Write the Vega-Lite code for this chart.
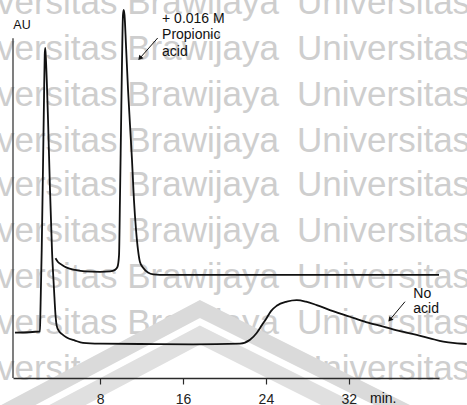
{
  "$schema": "https://vega.github.io/schema/vega-lite/v6.json",
  "width": 426,
  "height": 378,
  "autosize": {"type": "none"},
  "padding": {"left": 13, "top": 0, "right": 28, "bottom": 27},
  "background": "white",
  "config": {"view": {"stroke": null}, "font": "Liberation Sans"},
  "datasets": {
    "curves": [
      {"series": "No acid", "t": -0.21, "v": 12.0},
      {"series": "No acid", "t": 2.20, "v": 12.3},
      {"series": "No acid", "t": 2.25, "v": 18.0},
      {"series": "No acid", "t": 2.37, "v": 33.9},
      {"series": "No acid", "t": 2.49, "v": 55.0},
      {"series": "No acid", "t": 2.59, "v": 73.5},
      {"series": "No acid", "t": 2.66, "v": 85.4},
      {"series": "No acid", "t": 2.71, "v": 87.3},
      {"series": "No acid", "t": 2.78, "v": 84.1},
      {"series": "No acid", "t": 2.98, "v": 68.3},
      {"series": "No acid", "t": 3.17, "v": 49.7},
      {"series": "No acid", "t": 3.36, "v": 33.9},
      {"series": "No acid", "t": 3.56, "v": 23.3},
      {"series": "No acid", "t": 3.70, "v": 16.7},
      {"series": "No acid", "t": 3.82, "v": 13.8},
      {"series": "No acid", "t": 4.04, "v": 12.4},
      {"series": "No acid", "t": 4.33, "v": 11.6},
      {"series": "No acid", "t": 4.78, "v": 10.7},
      {"series": "No acid", "t": 5.58, "v": 9.9},
      {"series": "No acid", "t": 6.35, "v": 9.3},
      {"series": "No acid", "t": 7.99, "v": 9.1},
      {"series": "No acid", "t": 11.85, "v": 9.0},
      {"series": "No acid", "t": 16.97, "v": 8.9},
      {"series": "No acid", "t": 21.50, "v": 9.1},
      {"series": "No acid", "t": 22.47, "v": 10.1},
      {"series": "No acid", "t": 23.11, "v": 11.9},
      {"series": "No acid", "t": 23.62, "v": 14.0},
      {"series": "No acid", "t": 24.08, "v": 15.9},
      {"series": "No acid", "t": 24.49, "v": 17.7},
      {"series": "No acid", "t": 25.04, "v": 19.1},
      {"series": "No acid", "t": 26.01, "v": 20.2},
      {"series": "No acid", "t": 26.97, "v": 20.6},
      {"series": "No acid", "t": 27.87, "v": 20.2},
      {"series": "No acid", "t": 28.90, "v": 19.3},
      {"series": "No acid", "t": 30.47, "v": 17.7},
      {"series": "No acid", "t": 32.11, "v": 16.2},
      {"series": "No acid", "t": 33.66, "v": 14.8},
      {"series": "No acid", "t": 35.33, "v": 13.6},
      {"series": "No acid", "t": 36.94, "v": 12.4},
      {"series": "No acid", "t": 38.55, "v": 11.4},
      {"series": "No acid", "t": 39.83, "v": 10.5},
      {"series": "No acid", "t": 41.12, "v": 9.6},
      {"series": "No acid", "t": 42.24, "v": 9.2},
      {"series": "No acid", "t": 43.37, "v": 9.0},
      {"series": "Propionic", "t": 3.70, "v": 31.7},
      {"series": "Propionic", "t": 3.94, "v": 30.7},
      {"series": "Propionic", "t": 4.33, "v": 29.9},
      {"series": "Propionic", "t": 4.78, "v": 29.2},
      {"series": "Propionic", "t": 5.58, "v": 28.6},
      {"series": "Propionic", "t": 6.55, "v": 28.2},
      {"series": "Propionic", "t": 7.99, "v": 28.1},
      {"series": "Propionic", "t": 8.96, "v": 28.2},
      {"series": "Propionic", "t": 9.44, "v": 28.6},
      {"series": "Propionic", "t": 9.68, "v": 29.4},
      {"series": "Propionic", "t": 9.83, "v": 32.5},
      {"series": "Propionic", "t": 9.92, "v": 47.1},
      {"series": "Propionic", "t": 10.02, "v": 65.6},
      {"series": "Propionic", "t": 10.12, "v": 84.1},
      {"series": "Propionic", "t": 10.21, "v": 96.0},
      {"series": "Propionic", "t": 10.28, "v": 97.4},
      {"series": "Propionic", "t": 10.36, "v": 96.0},
      {"series": "Propionic", "t": 10.50, "v": 88.1},
      {"series": "Propionic", "t": 10.70, "v": 76.2},
      {"series": "Propionic", "t": 10.89, "v": 66.9},
      {"series": "Propionic", "t": 11.08, "v": 57.7},
      {"series": "Propionic", "t": 11.27, "v": 47.1},
      {"series": "Propionic", "t": 11.47, "v": 39.2},
      {"series": "Propionic", "t": 11.66, "v": 33.9},
      {"series": "Propionic", "t": 11.85, "v": 30.7},
      {"series": "Propionic", "t": 12.17, "v": 29.1},
      {"series": "Propionic", "t": 12.62, "v": 27.9},
      {"series": "Propionic", "t": 13.14, "v": 27.4},
      {"series": "Propionic", "t": 13.78, "v": 27.3},
      {"series": "Propionic", "t": 27.29, "v": 27.3},
      {"series": "Propionic", "t": 40.70, "v": 27.3}
    ],
    "watermark": [
      {"t": 25.26, "v": 96.4, "word": "Universitas Brawijaya"},
      {"t": 25.26, "v": 84.1, "word": "Universitas Brawijaya"},
      {"t": 25.26, "v": 71.96, "word": "Universitas Brawijaya"},
      {"t": 25.26, "v": 59.79, "word": "Universitas Brawijaya"},
      {"t": 25.26, "v": 48.15, "word": "Universitas Brawijaya"},
      {"t": 25.26, "v": 35.98, "word": "Universitas Brawijaya"},
      {"t": 25.26, "v": 23.81, "word": "Universitas Brawijaya"},
      {"t": 25.26, "v": 11.64, "word": "Universitas Brawijaya"},
      {"t": 25.26, "v": -0.53, "word": "Universitas Brawijaya"}
    ],
    "watermark2": [
      {"t": 27.0, "v": 96.4, "word": "Universitas"},
      {"t": 27.0, "v": 84.1, "word": "Universitas"},
      {"t": 27.0, "v": 71.96, "word": "Universitas"},
      {"t": 27.0, "v": 59.79, "word": "Universitas"},
      {"t": 27.0, "v": 48.15, "word": "Universitas"},
      {"t": 27.0, "v": 35.98, "word": "Universitas"},
      {"t": 27.0, "v": 23.81, "word": "Universitas"},
      {"t": 27.0, "v": 11.64, "word": "Universitas"},
      {"t": 27.0, "v": -0.53, "word": "Universitas"}
    ],
    "logoOuter": [
      {"t": -2.62, "v": -11.11}, {"t": 17.64, "v": 18.25}, {"t": 40.80, "v": -13.49}
    ],
    "logoInner": [
      {"t": -2.62, "v": -17.99}, {"t": 17.64, "v": 11.38}, {"t": 40.80, "v": -20.37}
    ],
    "labels": [
      {"t": 13.98, "v": 93.84, "label": "+ 0.016 M"},
      {"t": 13.98, "v": 89.6, "label": "Propionic"},
      {"t": 13.98, "v": 85.19, "label": "acid"},
      {"t": 38.22, "v": 21.08, "label": "No"},
      {"t": 38.22, "v": 17.11, "label": "acid"},
      {"t": 34.04, "v": -6.6, "label": "min."}
    ],
    "arrows": [
      {"t": 13.56, "v": 89.95, "t2": 11.84, "v2": 84.6},
      {"t": 37.42, "v": 20.19, "t2": 35.96, "v2": 15.4}
    ]
  },
  "encoding": {
    "x": {
      "field": "t", "type": "quantitative",
      "scale": {"domain": [-0.4, 40.7], "nice": false, "zero": false},
      "axis": {
        "values": [8, 16, 24, 32], "title": null, "grid": false, "zindex": 1,
        "tickSize": 6, "tickColor": "#2a2a2a", "tickWidth": 1.2,
        "domainColor": "#2a2a2a", "domainWidth": 1.3,
        "labelFontSize": 14, "labelColor": "#222", "labelPadding": 8, "labelFlush": false
      }
    },
    "y": {
      "field": "v", "type": "quantitative",
      "scale": {"domain": [0, 100], "nice": false, "zero": false},
      "axis": null
    }
  },
  "layer": [
    {
      "data": {"name": "watermark"},
      "mark": {"type": "text", "align": "right", "baseline": "alphabetic", "fontSize": 35, "color": "#cecece"},
      "encoding": {"text": {"field": "word"}}
    },
    {
      "data": {"name": "watermark2"},
      "mark": {"type": "text", "align": "left", "baseline": "alphabetic", "fontSize": 35, "color": "#cecece"},
      "encoding": {"text": {"field": "word"}}
    },
    {
      "data": {"name": "logoOuter"},
      "mark": {"type": "area", "color": "white", "interpolate": "linear"},
      "encoding": {"y2": {"datum": -25}}
    },
    {
      "data": {"name": "logoOuter"},
      "mark": {"type": "line", "color": "#dadada", "strokeWidth": 16, "strokeJoin": "miter", "strokeCap": "butt"}
    },
    {
      "data": {"name": "logoInner"},
      "mark": {"type": "line", "color": "#e0e0e0", "strokeWidth": 17, "strokeJoin": "miter", "strokeCap": "butt"}
    },
    {
      "data": {"values": [{"t": -0.4, "v": 0, "v2": 89.9}]},
      "mark": {"type": "rule", "color": "#3a3a3a", "strokeWidth": 1.3},
      "encoding": {"y2": {"field": "v2"}}
    },
    {
      "data": {"name": "curves"},
      "mark": {"type": "line", "color": "#111", "strokeWidth": 1.8, "interpolate": "monotone"},
      "encoding": {"detail": {"field": "series"}}
    },
    {
      "data": {"name": "arrows"},
      "mark": {"type": "rule", "color": "#111", "strokeWidth": 1},
      "encoding": {"x2": {"field": "t2"}, "y2": {"field": "v2"}}
    },
    {
      "data": {"name": "arrows"},
      "mark": {"type": "point", "shape": "triangle-up", "filled": true, "color": "#111", "size": 30, "angle": 220.5, "opacity": 1},
      "encoding": {"x": {"field": "t2"}, "y": {"field": "v2"}}
    },
    {
      "data": {"name": "labels"},
      "mark": {"type": "text", "align": "left", "baseline": "alphabetic", "fontSize": 14, "color": "#111"},
      "encoding": {"text": {"field": "label"}}
    },
    {
      "data": {"values": [{"t": -0.37, "v": 92.2, "label": "AU"}]},
      "mark": {"type": "text", "align": "left", "baseline": "alphabetic", "fontSize": 12.5, "color": "#111"},
      "encoding": {"text": {"field": "label"}}
    }
  ]
}
